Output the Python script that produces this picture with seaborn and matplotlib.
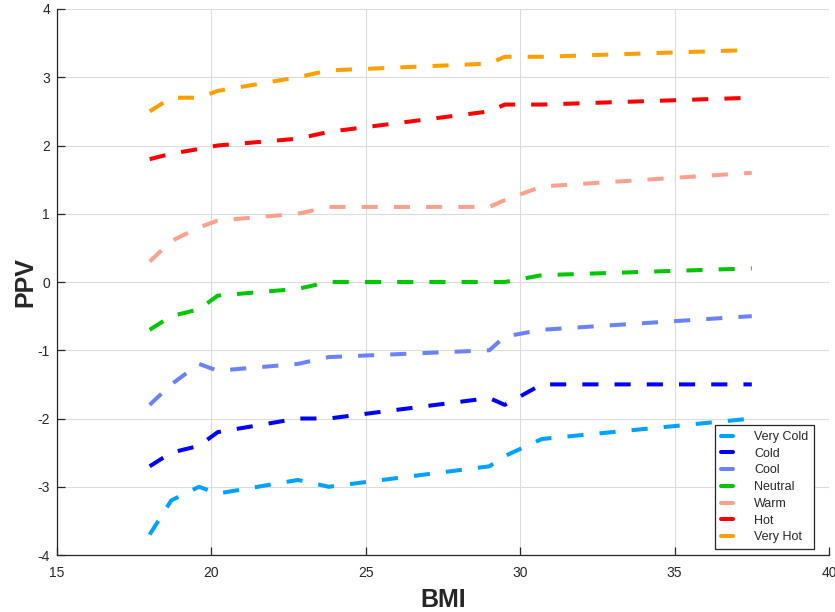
import matplotlib
matplotlib.use("Agg")
import matplotlib.pyplot as plt
import seaborn as sns
import pandas as pd

# BMI breakpoints shared by every thermal-sensation curve
bmi = [18.0, 18.7, 19.6, 20.2, 22.8, 23.8, 29.0, 29.5, 30.7, 37.5]

very_cold = [-3.7, -3.2, -3.0, -3.1, -2.9, -3.0, -2.7, -2.55, -2.3, -2.0]
cold      = [-2.7, -2.5, -2.4, -2.2, -2.0, -2.0, -1.7, -1.8, -1.5, -1.5]
cool      = [-1.8, -1.5, -1.2, -1.3, -1.2, -1.1, -1.0, -0.8, -0.7, -0.5]
neutral   = [-0.7, -0.5, -0.4, -0.2, -0.1, 0.0, 0.0, 0.0, 0.1, 0.2]
warm      = [0.3, 0.6, 0.8, 0.9, 1.0, 1.1, 1.1, 1.2, 1.4, 1.6]
hot       = [1.8, 1.88, 1.95, 2.0, 2.1, 2.2, 2.5, 2.6, 2.6, 2.7]
very_hot  = [2.5, 2.7, 2.7, 2.8, 3.0, 3.1, 3.2, 3.3, 3.3, 3.4]

labels = ["Very Cold", "Cold", "Cool", "Neutral", "Warm", "Hot", "Very Hot"]
series = [very_cold, cold, cool, neutral, warm, hot, very_hot]
colors = ["#00a2ff", "#0000ff", "#6b82ff", "#00c800", "#ffa08c", "#ff0000", "#ffa000"]

df = pd.concat(
    [pd.DataFrame({"BMI": bmi, "PPV": vals, "Sensation": name})
     for name, vals in zip(labels, series)],
    ignore_index=True,
)

sns.set_theme(style="white")
plt.rcParams["font.family"] = ["Liberation Sans", "DejaVu Sans"]
plt.rcParams["axes.unicode_minus"] = False

fig = plt.figure(figsize=(8.35, 6.12), dpi=100)
ax = fig.add_axes([0.0683, 0.0931, 0.9245, 0.8922])

sns.lineplot(
    data=df, x="BMI", y="PPV", hue="Sensation", hue_order=labels,
    palette=colors, linewidth=2.9, ax=ax, legend=True, sort=False,
)
for line in ax.get_lines():
    line.set_dashes((4, 4))
    line.set_dash_capstyle("butt")

ax.set_xlim(15, 40)
ax.set_ylim(-4, 4)
ax.set_xticks([15, 20, 25, 30, 35, 40])
ax.set_yticks(range(-4, 5))
ax.grid(True, color="#dcdcdc", linewidth=0.8)
ax.set_axisbelow(True)

for side in ("top", "right"):
    ax.spines[side].set_visible(False)
for side in ("left", "bottom"):
    ax.spines[side].set_color("#262626")
    ax.spines[side].set_linewidth(0.9)

ax.tick_params(direction="in", length=6, width=0.9, colors="#262626",
               labelsize=10, left=True, bottom=True)
ax.tick_params(axis="x", pad=8)
ax.tick_params(axis="y", pad=5)

ax.set_xlabel("BMI", fontsize=18, fontweight="bold", color="#262626", labelpad=6)
ax.set_ylabel("PPV", fontsize=18, fontweight="bold", color="#262626", labelpad=0.5)

leg = ax.legend(
    handles=ax.get_legend().legend_handles, labels=labels,
    loc="lower right", bbox_to_anchor=(0.9805, 0.011),
    fontsize=9, frameon=True, fancybox=False, framealpha=1,
    edgecolor="#262626", handlelength=0.95, handletextpad=1.7,
    labelspacing=0.38, borderpad=0.45, borderaxespad=0.0,
)
leg.get_frame().set_linewidth(0.9)
for h in leg.legend_handles:
    h.set_linestyle("-")
    h.set_linewidth(2.9)

fig.savefig("out.png", dpi=100)
